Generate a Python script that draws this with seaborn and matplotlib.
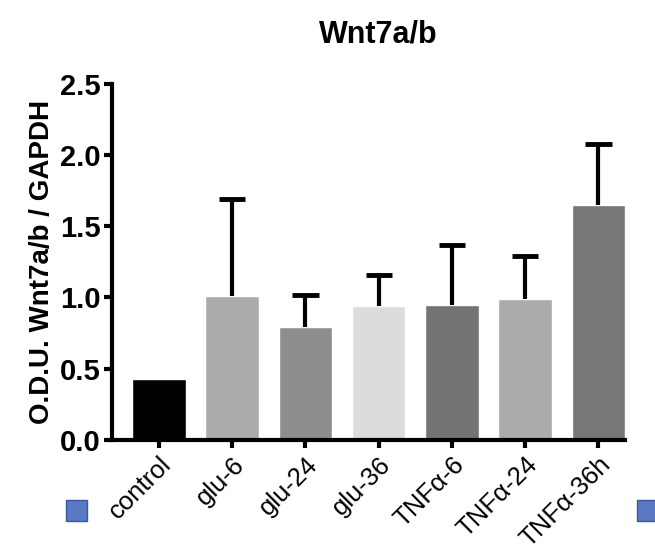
import matplotlib
matplotlib.use("Agg")
import matplotlib.pyplot as plt
import matplotlib.patches as mpatches
import numpy as np
import pandas as pd
import seaborn as sns

groups = ["control", "glu-6", "glu-24", "glu-36", "TNFα-6", "TNFα-24", "TNFα-36h"]
means = [0.43, 1.01, 0.79, 0.94, 0.95, 0.99, 1.65]
upper = [0.43, 1.69, 1.02, 1.16, 1.37, 1.29, 2.08]
colors = ["#000000", "#ababab", "#8d8d8d", "#dcdcdc", "#747474", "#ababab", "#777777"]

sns.set_theme(style="ticks")
plt.rcParams["font.family"] = ["Liberation Sans", "DejaVu Sans"]
plt.rcParams["text.color"] = "black"
plt.rcParams["axes.labelcolor"] = "black"
plt.rcParams["xtick.color"] = "black"
plt.rcParams["ytick.color"] = "black"
plt.rcParams["axes.edgecolor"] = "black"


def main():
    df = pd.DataFrame({"group": groups, "value": means})
    has_err = [u > m for u, m in zip(upper, means)]
    xs = [i for i, h in enumerate(has_err) if h]
    lo = [means[i] for i in xs]
    hi = [upper[i] for i in xs]

    fig = plt.figure(figsize=(6.55, 5.56), dpi=100)
    ax = fig.add_axes([0.171, 0.209, 0.783, 0.640])

    sns.barplot(data=df, x="group", y="value", hue="group", palette=colors,
                legend=False, width=0.73, saturation=1, ax=ax)
    # upper-only error bars
    ax.vlines(xs, lo, hi, color="black", lw=3, zorder=3)
    ax.hlines(hi, np.array(xs) - 0.18, np.array(xs) + 0.18, color="black",
              lw=3.5, zorder=3)

    ax.set_ylim(0, 2.5)
    ax.set_xlim(-0.64, 6.36)
    ax.set_yticks([0, 0.5, 1.0, 1.5, 2.0, 2.5])
    ax.set_yticklabels(["0.0", "0.5", "1.0", "1.5", "2.0", "2.5"],
                       fontsize=21, fontweight="bold")
    ax.set_xticks(range(len(groups)))
    ax.set_xticklabels(groups, rotation=45, ha="right", rotation_mode="anchor",
                       fontsize=18.5)
    ax.set_xlabel("")
    ax.set_ylabel("O.D.U. Wnt7a/b / GAPDH", fontsize=20, fontweight="bold",
                  labelpad=4)
    ax.set_title("Wnt7a/b", fontsize=22, fontweight="bold", pad=30, x=0.52)

    sns.despine(ax=ax)
    for s in ["left", "bottom"]:
        ax.spines[s].set_linewidth(3)
    ax.tick_params(axis="both", width=3, length=6, color="black", pad=2)
    ax.tick_params(axis="x", pad=3)

    # small blue markers in the corners of the original image
    for x0 in [0.100, 0.972]:
        fig.patches.append(mpatches.Rectangle((x0, 0.063), 0.033, 0.038,
                                              transform=fig.transFigure,
                                              facecolor="#5b79c2",
                                              edgecolor="#3a58a0", lw=1))

    fig.savefig("out.png", dpi=100)
    plt.close(fig)


if __name__ == "__main__":
    main()
